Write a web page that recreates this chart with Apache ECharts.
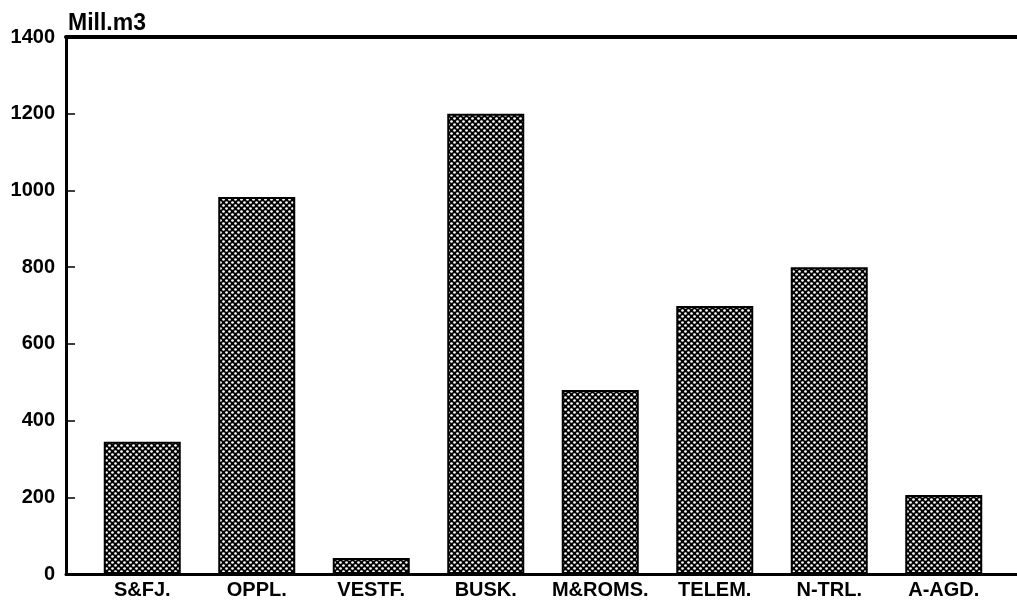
<!DOCTYPE html>
<html>
<head>
<meta charset="utf-8">
<script src="https://cdn.jsdelivr.net/npm/echarts@6/dist/echarts.min.js"></script>
<style>
  html, body { margin: 0; padding: 0; background: #fff; }
  #chart { width: 1017px; height: 604px; }
</style>
</head>
<body>
<div id="chart"></div>
<script>
const categories = ["S&FJ.", "OPPL.", "VESTF.", "BUSK.", "M&ROMS.", "TELEM.", "N-TRL.", "A-AGD."];
const volumes = [345, 983, 42, 1200, 480, 699, 800, 206];
const yTicks = { min: 0, max: 1400, step: 200 };

// crosshatch fill like the printed original
function hatch() {
  const c = document.createElement("canvas");
  c.width = 6;
  c.height = 6;
  const ctx = c.getContext("2d");
  ctx.fillStyle = "#000";
  ctx.fillRect(0, 0, 6, 6);
  ctx.fillStyle = "#fff";
  [[1.5, 1.5], [4.5, 4.5]].forEach(([x, y]) => {
    ctx.beginPath();
    ctx.arc(x, y, 1.35, 0, Math.PI * 2);
    ctx.fill();
  });
  return c;
}

const font = "'Liberation Sans', Arial, sans-serif";
const chart = echarts.init(document.getElementById("chart"));

chart.setOption({
  animation: false,
  title: {
    text: "Mill.m3",
    left: 63,
    top: 7,
    textStyle: { fontFamily: font, fontWeight: "bold", fontSize: 23, color: "#000" }
  },
  grid: [
    { left: 66, right: 0, top: 37, bottom: 30 },
    { left: 85, right: 16, top: 37, bottom: 30 }
  ],
  xAxis: [
    {
      type: "value", gridIndex: 0, position: "bottom", min: 0, max: 1,
      axisLine: { show: true, lineStyle: { color: "#000", width: 3 } },
      axisTick: { show: false }, axisLabel: { show: false }, splitLine: { show: false }
    },
    {
      type: "value", gridIndex: 0, position: "top", min: 0, max: 1,
      axisLine: { show: true, lineStyle: { color: "#000", width: 4 } },
      axisTick: { show: false }, axisLabel: { show: false }, splitLine: { show: false }
    },
    {
      type: "category", gridIndex: 1, data: categories,
      axisLine: { show: false }, axisTick: { show: false },
      axisLabel: {
        interval: 0, margin: 6, color: "#000",
        fontFamily: font, fontWeight: "bold", fontSize: 20
      }
    }
  ],
  yAxis: [
    {
      type: "value", gridIndex: 0, min: yTicks.min, max: yTicks.max, interval: yTicks.step,
      axisLine: { show: true, lineStyle: { color: "#000", width: 3 } },
      axisTick: { show: true, inside: true, length: 9, lineStyle: { color: "#000", width: 1.5 } },
      splitLine: { show: false },
      axisLabel: {
        margin: 11, color: "#000", fontFamily: font, fontWeight: "bold", fontSize: 20,
        formatter: (v) => String(v)
      }
    },
    {
      type: "value", gridIndex: 1, min: yTicks.min, max: yTicks.max, show: false
    }
  ],
  series: [
    {
      type: "bar",
      xAxisIndex: 2,
      yAxisIndex: 1,
      data: volumes,
      barWidth: 77,
      itemStyle: {
        color: { image: hatch(), repeat: "repeat" },
        borderColor: "#000",
        borderWidth: 2
      }
    }
  ]
});
</script>
</body>
</html>
